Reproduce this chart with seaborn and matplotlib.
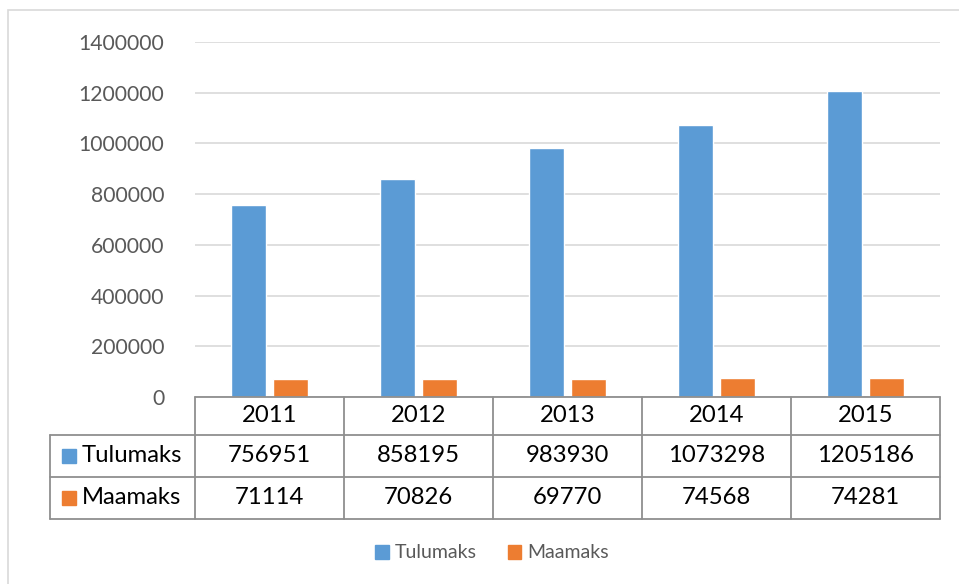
import pandas as pd
import numpy as np
import matplotlib.pyplot as plt
import matplotlib.transforms as mtransforms
from matplotlib.lines import Line2D
from matplotlib.patches import Rectangle, Patch
import seaborn as sns

# andmed
years = ["2011", "2012", "2013", "2014", "2015"]
tulumaks = [756951, 858195, 983930, 1073298, 1205186]
maamaks = [71114, 70826, 69770, 74568, 74281]
series_names = ["Tulumaks", "Maamaks"]
colors = ["#5B9BD5", "#ED7D31"]
y_ticks = [0, 200000, 400000, 600000, 800000, 1000000, 1200000, 1400000]

df = pd.DataFrame({"aasta": years * 2,
                   "maks": ["Tulumaks"] * 5 + ["Maamaks"] * 5,
                   "summa": tulumaks + maamaks})

sns.set_style("white")
plt.rcParams["font.family"] = ["Lato", "DejaVu Sans"]

W, H = 959, 584
fig = plt.figure(figsize=(W / 100, H / 100), dpi=100)

def fx(x):
    return x / W

def fy(y):
    return 1 - y / H

ax_l, ax_r, ax_t, ax_b = 195, 940, 42, 397
ax = fig.add_axes([fx(ax_l), fy(ax_b), fx(ax_r - ax_l), fy(ax_t) - fy(ax_b)])

sns.barplot(data=df, x="aasta", y="summa", hue="maks", hue_order=series_names,
            palette=colors, width=0.564, gap=0.19, saturation=1, ax=ax)
ax.get_legend().remove()

ax.set_xlim(-0.5, 4.5)
ax.set_ylim(0, 1400000)
ax.set_yticks(y_ticks)
ax.set_yticklabels([str(v) for v in y_ticks], fontsize=15.2, color="#595959")
ax.set_xticks([])
ax.set_xlabel("")
ax.set_ylabel("")
ax.tick_params(axis="y", length=0, pad=22)
ax.yaxis.grid(True, color="#d9d9d9", linewidth=1.2)
ax.set_axisbelow(True)
for s in ax.spines.values():
    s.set_visible(False)

# andmetabel
grid_c = "#8f8f8f"
lw = 1.3
fs = 17.2
row_y = [397, 435, 477, 519]
tr = mtransforms.blended_transform_factory(ax.transData, fig.transFigure)
edges = np.arange(len(years) + 1) - 0.5

# horisontaalsed jooned
fig.add_artist(Line2D([fx(ax_l), fx(ax_r)], [fy(row_y[0])] * 2, color=grid_c, lw=lw))
for yy in row_y[1:]:
    fig.add_artist(Line2D([fx(50), fx(ax_r)], [fy(yy)] * 2, color=grid_c, lw=lw))
# vertikaalsed jooned
for e in edges:
    ax.add_artist(Line2D([e, e], [fy(row_y[0]), fy(row_y[-1])], color=grid_c, lw=lw,
                         transform=tr, clip_on=False))
fig.add_artist(Line2D([fx(50), fx(50)], [fy(row_y[1]), fy(row_y[-1])], color=grid_c, lw=lw))

# tekstid
for i, yr in enumerate(years):
    ax.text(i, fy((row_y[0] + row_y[1]) / 2), yr, transform=tr, ha="center", va="center",
            fontsize=fs, color="black", clip_on=False)
    ax.text(i, fy((row_y[1] + row_y[2]) / 2), str(tulumaks[i]), transform=tr, ha="center",
            va="center", fontsize=fs, color="black", clip_on=False)
    ax.text(i, fy((row_y[2] + row_y[3]) / 2), str(maamaks[i]), transform=tr, ha="center",
            va="center", fontsize=fs, color="black", clip_on=False)

for k, name in enumerate(series_names):
    yc = (row_y[k + 1] + row_y[k + 2]) / 2
    fig.add_artist(Rectangle((fx(62), fy(yc + 7)), fx(14), fy(yc - 7) - fy(yc + 7),
                             color=colors[k], transform=fig.transFigure))
    fig.text(fx(82), fy(yc), name, ha="left", va="center", fontsize=fs, color="black")

# legend
handles = [Patch(color=c, label=n) for c, n in zip(colors, series_names)]
fig.legend(handles=handles, loc="center", bbox_to_anchor=(fx(492), fy(553)), ncol=2,
           frameon=False, fontsize=14, handlelength=0.7, handleheight=0.7,
           handletextpad=0.3, columnspacing=1.6, labelcolor="#595959")

# raam
fig.add_artist(Rectangle((fx(8), fy(H + 5)), fx(W), fy(10) - fy(H + 5), fill=False,
                         edgecolor="#d9d9d9", lw=1.2, transform=fig.transFigure))

fig.savefig("out.png", dpi=100)
